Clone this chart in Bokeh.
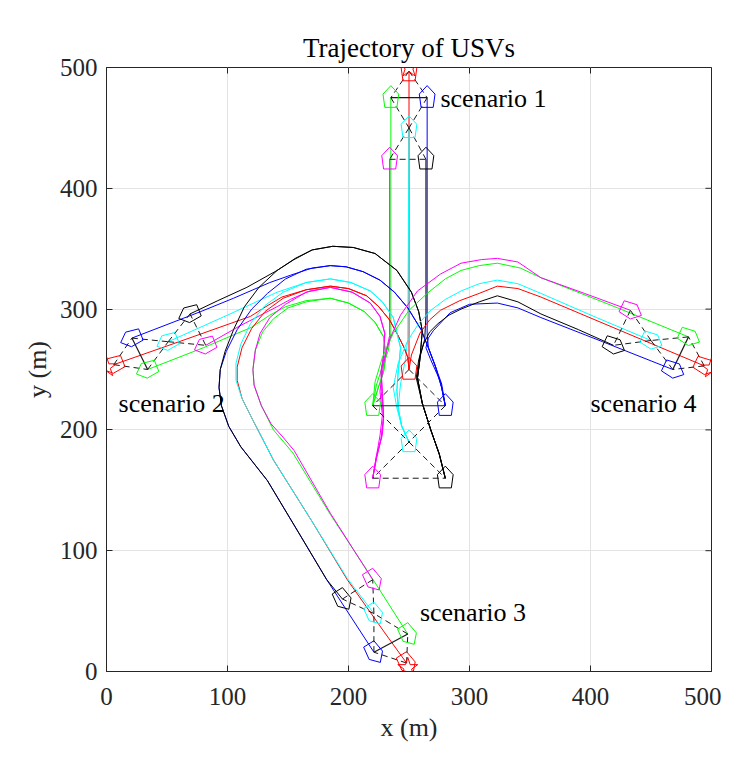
import math
from bokeh.plotting import figure
from bokeh.models import FixedTicker
from bokeh.core.properties import value
from bokeh.embed import file_html
from bokeh.resources import INLINE

# ---------------- data ----------------
TICKS = [0, 100, 200, 300, 400, 500]
ROLES = ["red", "green", "blue", "cyan", "magenta", "black"]
COLORS = {"red": "#ff0000", "green": "#00ff00", "blue": "#0000ff",
          "cyan": "#00ffff", "magenta": "#ff00ff", "black": "#000000"}

START_HEADING = 90
END_HEADINGS = {"s1": 90, "s2": 202, "s3": -58, "s4": -25}
STARS_X = [250, 0, 249, 500]
STARS_Y = [500, 252, 3, 251]

# scenario 1 (up)
S1_RED = [(250, 250), (250, 497)]
S1_GREEN = [(220, 220), (223, 237), (228, 252), (233, 266), (235, 280), (235, 475)]
S1_BLUE = [(280, 220), (277, 238), (271, 255), (266, 268), (265, 280), (265, 475)]
S1_CYAN = [(250, 190), (244, 203), (241, 218), (243, 238), (247, 258), (249, 275), (250, 450)]
S1_MAGENTA = [(220, 160), (223, 178), (228, 196), (229, 212), (227, 232), (227, 250), (231, 265), (234, 278), (234, 424)]
S1_BLACK = [(280, 160), (275, 180), (268, 200), (261, 222), (257, 243), (259, 260), (263, 275), (264, 295), (264, 424)]

# scenario 2 (left)
S2_RED = [(250, 250), (249, 260), (246, 268), (240, 280), (234, 291), (225, 302), (215, 311), (200, 317), (185, 319),
          (165, 316), (145, 310), (130, 301), (119, 294), (60, 273), (6, 254)]
S2_GREEN = [(220, 220), (224, 233), (229, 248), (231, 262), (229, 277), (222, 289), (213, 298), (200, 305), (185, 309),
            (165, 307), (148, 302), (135, 295), (120, 285), (80, 268), (34, 250)]
S2_BLUE = [(280, 220), (277, 235), (272, 252), (266, 268), (260, 283), (249, 301), (238, 314), (226, 324), (212, 331),
           (198, 335), (185, 336), (170, 334), (152, 328), (135, 322), (105, 309), (78, 298), (21, 276)]
S2_CYAN = [(250, 190), (244, 203), (241, 218), (240, 233), (241, 247), (243, 268), (237, 293), (228, 306), (218, 315),
           (202, 322), (185, 325), (165, 322), (141, 314), (100, 295), (51, 273)]
S2_MAGENTA = [(220, 160), (223, 176), (227, 193), (229, 210), (228, 230), (227, 248), (229, 262), (230, 280), (226, 294),
              (218, 305), (203, 314), (185, 318), (168, 315), (152, 308), (141, 302), (110, 286), (82, 270)]
S2_BLACK = [(280, 160), (275, 180), (268, 200), (261, 222), (257, 243), (259, 258), (261, 282), (258, 298), (252, 314),
            (240, 332), (222, 346), (204, 351), (187, 352), (170, 349), (156, 342), (141, 332), (116, 318), (92, 307),
            (69, 296)]

# scenario 3 (down)
S3_RED = [(250, 250), (249, 260), (246, 268), (240, 280), (234, 291), (225, 302), (215, 311), (200, 317), (185, 319),
          (165, 316), (146, 309), (131, 298), (120, 284), (112, 268), (108, 252), (108, 241), (112, 226), (121, 208),
          (138, 175), (170, 124), (199, 76), (230, 32), (248, 7)]
S3_GREEN = [(220, 220), (224, 233), (229, 248), (231, 262), (229, 277), (222, 289), (213, 298), (200, 305), (185, 309),
            (165, 306), (150, 301), (138, 292), (129, 281), (123, 266), (121, 250), (122, 237), (128, 220), (138, 200),
            (154, 181), (185, 130), (221, 75), (249, 31)]
S3_BLUE = [(280, 220), (277, 235), (272, 252), (266, 268), (260, 283), (249, 301), (238, 314), (226, 324), (212, 331),
           (198, 335), (185, 336), (165, 333), (148, 325), (133, 313), (120, 300), (108, 283), (99, 265), (94, 250),
           (93, 235), (95, 220), (101, 203), (111, 186), (133, 158), (182, 76), (221, 16)]
S3_CYAN = [(250, 190), (244, 203), (241, 218), (240, 233), (241, 247), (243, 268), (237, 293), (228, 306), (218, 315),
           (202, 322), (185, 325), (165, 322), (146, 314), (131, 303), (119, 288), (111, 271), (107, 255), (107, 241),
           (112, 226), (121, 208), (138, 175), (170, 124), (199, 77), (221, 48)]
S3_MAGENTA = [(220, 160), (223, 176), (227, 193), (229, 210), (228, 230), (227, 248), (229, 262), (230, 280), (226, 294),
              (218, 305), (203, 314), (185, 318), (165, 314), (148, 304), (135, 293), (127, 280), (123, 266), (121, 250),
              (122, 237), (128, 220), (136, 205), (145, 195), (155, 183), (185, 131), (220, 76)]
S3_BLACK = [(280, 160), (275, 180), (268, 200), (261, 222), (257, 243), (259, 258), (261, 282), (258, 298), (252, 314),
            (240, 332), (222, 346), (204, 351), (187, 352), (170, 349), (155, 341), (141, 332), (126, 318), (114, 302),
            (105, 283), (98, 265), (94, 250), (93, 235), (95, 220), (101, 203), (111, 186), (122, 172), (133, 158),
            (160, 113), (182, 76), (195, 60)]

# scenario 4 (right)
S4_RED = [(250, 250), (252, 262), (259, 280), (267, 291), (276, 299), (292, 307), (308, 313), (323, 319), (340, 317),
          (359, 310), (430, 280), (494, 253)]
S4_GREEN = [(220, 220), (222, 240), (228, 260), (237, 280), (250, 299), (265, 313), (280, 325), (293, 332), (308, 336),
            (323, 338), (342, 334), (359, 326), (420, 302), (481, 277)]
S4_BLUE = [(280, 220), (276, 240), (268, 258), (264, 268), (266, 276), (270, 282), (284, 297), (300, 304), (323, 305),
           (340, 301), (359, 293), (410, 273), (468, 250)]
S4_CYAN = [(250, 190), (244, 203), (240, 218), (237, 235), (241, 255), (249, 274), (258, 288), (268, 299), (280, 308),
           (293, 315), (308, 321), (323, 324), (340, 321), (359, 313), (405, 293), (450, 274)]
S4_MAGENTA = [(220, 160), (223, 178), (226, 195), (228, 212), (226, 232), (229, 255), (234, 275), (243, 295), (257, 315),
              (276, 329), (293, 338), (310, 341), (323, 342), (340, 339), (359, 326), (395, 313), (433, 299)]
S4_BLACK = [(280, 160), (275, 180), (268, 200), (261, 222), (256, 243), (258, 258), (262, 271), (267, 281), (274, 288),
            (283, 295), (293, 300), (308, 306), (323, 311), (340, 306), (359, 296), (390, 283), (419, 270)]

SCENARIOS = {
    "s1": [S1_RED, S1_GREEN, S1_BLUE, S1_CYAN, S1_MAGENTA, S1_BLACK],
    "s2": [S2_RED, S2_GREEN, S2_BLUE, S2_CYAN, S2_MAGENTA, S2_BLACK],
    "s3": [S3_RED, S3_GREEN, S3_BLUE, S3_CYAN, S3_MAGENTA, S3_BLACK],
    "s4": [S4_RED, S4_GREEN, S4_BLUE, S4_CYAN, S4_MAGENTA, S4_BLACK],
}

LABEL_TEXT = ["scenario 1", "scenario 2", "scenario 3", "scenario 4"]
LABEL_X = [276, 10, 259, 400]
LABEL_Y = [474, 222, 49, 222]

# ---------------- styles ----------------
PENT_U = [10, 3, -8, -8, 3]       # boat outline, forward axis (data units)
PENT_V = [0, 6.5, 5, -5, -6.5]    # boat outline, lateral axis
TICK_LEN = 5                      # mirrored tick length (data units)
DASHED_LINKS = [(0, 1), (0, 2), (1, 3), (3, 5), (2, 3), (3, 4), (4, 5)]
SOLID_LINKS = [(1, 2)]
FONT = "Liberation Serif"
AX = "#262626"

p = figure(frame_width=605, frame_height=604, x_range=(0, 500), y_range=(0, 500),
           output_backend="svg", toolbar_location=None,
           min_border_left=106, min_border_right=10, min_border_top=67, min_border_bottom=81,
           title="Trajectory of USVs")
p.background_fill_color = "white"
p.border_fill_color = "white"
p.outline_line_color = AX
p.outline_line_width = 1

p.title.align = "center"
p.title.text_font = FONT
p.title.text_font_size = "27px"
p.title.text_font_style = "normal"
p.title.text_color = "#000000"

for ax in p.axis:
    ax.ticker = FixedTicker(ticks=TICKS)
    ax.axis_line_color = AX
    ax.major_tick_in = 6
    ax.major_tick_out = 0
    ax.minor_tick_line_color = None
    ax.major_tick_line_color = AX
    ax.major_label_text_font = FONT
    ax.major_label_text_font_size = "25px"
    ax.major_label_text_color = AX
    ax.axis_label_text_font = FONT
    ax.axis_label_text_font_size = "26px"
    ax.axis_label_text_font_style = "normal"
    ax.axis_label_text_color = AX
p.xaxis.axis_label = "x (m)"
p.yaxis.axis_label = "y (m)"
p.xaxis.major_label_standoff = 16
p.yaxis.major_label_standoff = 9

p.grid.ticker = FixedTicker(ticks=TICKS)
p.grid.grid_line_color = "#e3e3e3"
p.grid.grid_line_width = 1

# mirrored ticks on the top and right edges of the box
p.segment(x0=TICKS, y0=[500] * len(TICKS), x1=TICKS, y1=[500 - TICK_LEN] * len(TICKS), line_color=AX, line_width=1)
p.segment(x0=[500] * len(TICKS), y0=TICKS, x1=[500 - TICK_LEN] * len(TICKS), y1=TICKS, line_color=AX, line_width=1)

# trajectories
for key, paths in SCENARIOS.items():
    for role, path in zip(ROLES, paths):
        p.line([pt[0] for pt in path], [pt[1] for pt in path], line_color=COLORS[role], line_width=1,
               line_join="round")


def pentagon(cx, cy, heading):
    h = math.radians(heading)
    fx, fy = math.cos(h), math.sin(h)
    lx, ly = -fy, fx
    xs = [cx + u * fx + v * lx for u, v in zip(PENT_U, PENT_V)]
    ys = [cy + u * fy + v * ly for u, v in zip(PENT_U, PENT_V)]
    return xs, ys


def formation(points, heading):
    dxs, dys = [], []
    for a, b in DASHED_LINKS:
        dxs.append([points[a][0], points[b][0]])
        dys.append([points[a][1], points[b][1]])
    sxs, sys_ = [], []
    for a, b in SOLID_LINKS:
        sxs.append([points[a][0], points[b][0]])
        sys_.append([points[a][1], points[b][1]])
    p.multi_line(dxs, dys, line_color="#1a1a1a", line_width=1, line_dash="6 4")
    p.multi_line(sxs, sys_, line_color="#1a1a1a", line_width=1.2)
    pxs, pys, pcs = [], [], []
    for role, (x, y) in zip(ROLES, points):
        xs, ys = pentagon(x, y, heading)
        pxs.append(xs)
        pys.append(ys)
        pcs.append(COLORS[role])
    p.patches(pxs, pys, fill_alpha=0, line_color=pcs, line_width=1)


start_pts = [path[0] for path in SCENARIOS["s1"]]
formation(start_pts, START_HEADING)
for key, paths in SCENARIOS.items():
    formation([path[-1] for path in paths], END_HEADINGS[key])

p.scatter(STARS_X, STARS_Y, marker="star", size=21, fill_alpha=0, line_color="#ff0000", line_width=1)

p.text(LABEL_X, LABEL_Y, text=LABEL_TEXT, text_font=value(FONT), text_font_size="26px",
       text_baseline="middle", text_align="left", text_color="#000000")

open("out.html", "w").write(file_html(p, INLINE))
